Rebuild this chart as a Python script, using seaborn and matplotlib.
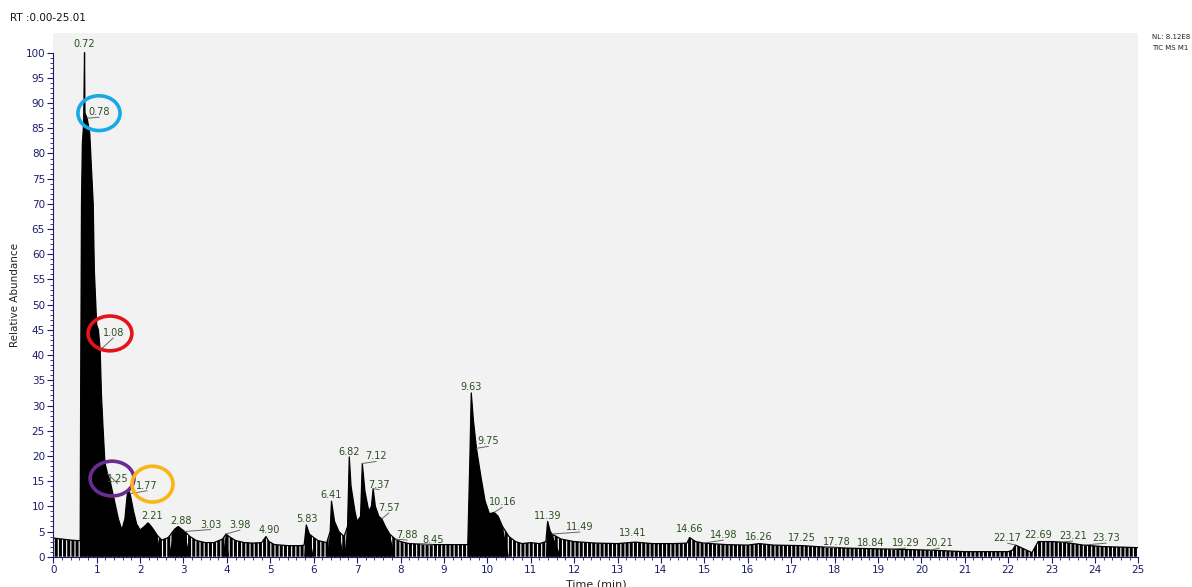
import numpy as np
import matplotlib
matplotlib.use("Agg")
import matplotlib.pyplot as plt
from matplotlib.patches import Ellipse
import seaborn as sns

# Total ion chromatogram (retention time in min, relative abundance in %)
rt_min = [
    0.00, 0.20, 0.40, 0.55, 0.62, 0.63, 0.65, 0.67, 0.70, 0.72, 0.73, 0.78,
    0.84, 0.88, 0.92, 0.945, 1.00, 1.04, 1.08, 1.11, 1.15, 1.19, 1.25, 1.31,
    1.42, 1.50, 1.58, 1.65, 1.70, 1.73, 1.77, 1.85, 1.92, 2.00, 2.10, 2.18,
    2.21, 2.30, 2.40, 2.50, 2.65, 2.80, 2.88, 2.95, 3.03, 3.15, 3.30, 3.50,
    3.70, 3.90, 3.98, 4.05, 4.20, 4.40, 4.60, 4.80, 4.90, 4.97, 5.10, 5.40,
    5.70, 5.78, 5.83, 5.90, 6.00, 6.10, 6.30, 6.38, 6.41, 6.48, 6.58, 6.70,
    6.78, 6.82, 6.86, 6.95, 7.00, 7.08, 7.12, 7.18, 7.27, 7.33, 7.37, 7.42,
    7.50, 7.57, 7.65, 7.75, 7.88, 8.00, 8.20, 8.45, 8.80, 9.20, 9.55, 9.60,
    9.63, 9.68, 9.75, 9.85, 9.95, 10.05, 10.16, 10.25, 10.35, 10.50, 10.65,
    10.80, 11.00, 11.20, 11.35, 11.39, 11.45, 11.49, 11.70, 12.00, 12.50,
    13.00, 13.41, 13.80, 14.30, 14.60, 14.66, 14.80, 14.98, 15.50, 16.00,
    16.26, 16.60, 17.25, 17.78, 18.30, 18.84, 19.29, 19.80, 20.21, 21.00,
    22.00, 22.10, 22.17, 22.30, 22.55, 22.65, 22.69, 23.00, 23.21, 23.50,
    23.73, 24.20, 24.60, 25.00,
]
abundance = [
    3.7, 3.5, 3.3, 3.2, 3.2, 30.0, 70.0, 82.0, 86.0, 100.0, 88.0, 87.0,
    84.0, 77.0, 70.0, 57.0, 46.0, 45.0, 41.0, 32.0, 25.0, 18.6, 16.5, 15.0,
    10.7, 7.5, 5.3, 7.5, 12.0, 13.3, 12.5, 9.0, 6.5, 5.3, 6.0, 6.7,
    6.5, 5.5, 4.2, 3.3, 3.8, 5.5, 6.0, 5.5, 5.0, 4.0, 3.2, 2.8,
    2.8, 3.5, 4.5, 4.0, 3.2, 2.8, 2.7, 2.8, 4.0, 3.0, 2.4, 2.2,
    2.2, 2.3, 6.3, 4.5, 3.8, 3.2, 2.8, 5.0, 11.0, 7.0, 5.0, 4.0,
    6.0, 19.8, 14.0, 9.0, 7.0, 8.0, 18.5, 13.0, 9.0, 10.0, 13.5, 10.0,
    8.0, 7.5, 6.0, 4.5, 3.5, 3.0, 2.6, 2.5, 2.4, 2.4, 2.4, 20.0,
    32.5, 27.0, 21.5, 16.0, 11.0, 8.5, 8.8, 8.0, 6.0, 4.0, 3.0,
    2.6, 2.8, 2.6, 3.0, 7.0, 5.0, 4.5, 3.5, 3.0, 2.7,
    2.6, 2.9, 2.6, 2.6, 2.7, 3.8, 3.0, 2.7, 2.4, 2.3,
    2.6, 2.3, 2.2, 1.9, 1.7, 1.6, 1.5, 1.4, 1.3, 1.0,
    1.0, 1.3, 2.3, 1.8, 0.8, 2.4, 3.0, 3.0, 2.9, 2.6,
    2.3, 2.0, 1.9, 1.8,
]

# Labelled peaks
peak_rt = [
    0.72, 0.78, 1.08, 1.25, 1.77, 2.21, 2.88, 3.03, 3.98, 4.90, 5.83, 6.41,
    6.82, 7.12, 7.37, 7.57, 7.88, 8.45, 9.63, 9.75, 10.16, 11.39, 11.49, 13.41,
    14.66, 14.98, 16.26, 17.25, 17.78, 18.84, 19.29, 20.21, 22.17, 22.69, 23.21,
    23.73,
]
peak_text = [f"{v:.2f}" for v in peak_rt]

# Label placement relative to each peak apex (pixels: right, up)
label_shift = [
    (0, 9), (12, 6), (13, 17), (10, -5), (17, 8), (3, 8), (3, 5), (26, 7),
    (14, 9), (3, 7), (1, 6), (0, 6), (0, 5), (14, 7), (6, 4), (7, 11),
    (12, 4), (13, 4), (0, 6), (12, 7), (8, 10), (0, 5), (28, 7), (-3, 9),
    (0, 9), (20, 8), (0, 7), (0, 8), (12, 5), (0, 6), (15, 6), (9, 7),
    (-8, 7), (0, 7), (12, 6), (23, 7),
]

# Highlight rings: centre (rt, abundance), size (min, %), colour
ring_center = [(1.053, 88.0), (1.306, 44.3), (1.353, 15.5), (2.286, 14.4)]
ring_size = [(0.97, 6.9), (1.01, 6.9), (1.01, 6.9), (0.945, 7.1)]
ring_color = ["#19a9e6", "#e3151b", "#6a2c91", "#f8b418"]

sns.set_theme(style="white")
plt.rcParams["font.family"] = ["DejaVu Sans"]
plt.rcParams["hatch.linewidth"] = 2.2

navy = "#1c1c6b"
green = "#2b4f1f"

fig = plt.figure(figsize=(11.92, 5.87), dpi=100)
ax = fig.add_axes([0.0447, 0.0516, 0.9103, 0.893])
ax.set_facecolor("#f2f2f2")

t = np.asarray(rt_min)
a = np.asarray(abundance)

# scan comb under the whole trace, solid fill under the peaks
ax.fill_between(t, 0, a, facecolor="white", edgecolor="black", hatch="||||",
                linewidth=0)
ax.fill_between(t, 0, a, where=a > 4.0, interpolate=True, color="black",
                linewidth=0)
sns.lineplot(x=t, y=a, ax=ax, color="black", linewidth=0.9, estimator=None,
             sort=False)

ax.set_xlim(0, 25)
ax.set_ylim(0, 104)
ax.spines["left"].set_bounds(0, 100)
for s in ("top", "right"):
    ax.spines[s].set_visible(False)
for s in ("left", "bottom"):
    ax.spines[s].set_color(navy)
    ax.spines[s].set_linewidth(0.8)

ax.set_xticks(np.arange(0, 26, 1))
ax.set_xticks(np.arange(0, 25.01, 0.2), minor=True)
ax.set_yticks(np.arange(0, 101, 5))
ax.set_yticks(np.arange(0, 101, 1), minor=True)
ax.tick_params(axis="both", which="major", direction="out", length=4,
               width=0.8, color=navy, labelcolor=navy, labelsize=7.5, pad=2,
               bottom=True, left=True)
ax.tick_params(axis="both", which="minor", direction="out", length=2,
               width=0.6, color=navy, bottom=True, left=True)

ax.set_xlabel("Time (min)", fontsize=8, labelpad=3, color="#222222")
ax.set_ylabel("Relative Abundance", fontsize=7.5, labelpad=4, color="#222222")

px = 0.72  # points per pixel at 100 dpi
for rt, txt, (dx, dy) in zip(peak_rt, peak_text, label_shift):
    h = float(np.interp(rt, t, a))
    ax.annotate(txt, xy=(rt, h), xytext=(dx * px, dy * px),
                textcoords="offset points", ha="center", va="center",
                fontsize=7, color=green, annotation_clip=False)
    if abs(dx) >= 5:
        ax.annotate("", xy=(rt, h), xytext=(dx * px, (dy - 5) * px),
                    textcoords="offset points",
                    arrowprops=dict(arrowstyle="-", color="#666666", lw=0.7,
                                    shrinkA=0, shrinkB=0))

for (cx, cy), (w, hh), c in zip(ring_center, ring_size, ring_color):
    ax.add_patch(Ellipse((cx, cy), w, hh, fill=False, edgecolor=c,
                         linewidth=2.6, clip_on=False, zorder=5))

fig.text(10 / 1192, 1 - 18 / 587, "RT :0.00-25.01", fontsize=7.5,
         va="center", ha="left", color="#111111")
fig.text(1152 / 1192, 1 - 37 / 587, "NL: 8.12E8", fontsize=5, va="center",
         ha="left", color="#222222")
fig.text(1152 / 1192, 1 - 48 / 587, "TIC MS M1", fontsize=5, va="center",
         ha="left", color="#222222")

fig.savefig("out.png", dpi=100, facecolor="white")
